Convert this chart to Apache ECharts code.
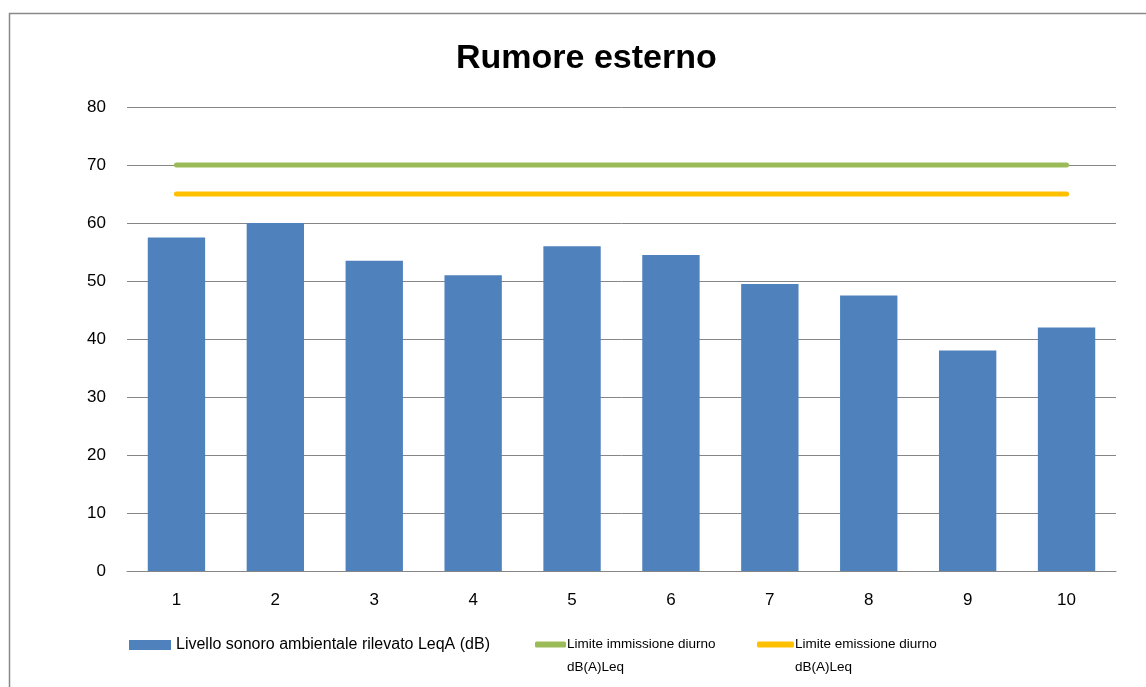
<!DOCTYPE html>
<html>
<head>
<meta charset="utf-8">
<script src="https://cdn.jsdelivr.net/npm/echarts@6/dist/echarts.min.js"></script>
<style>
  html, body { margin: 0; padding: 0; background: #fff; }
  #chart { width: 1146px; height: 687px; }
</style>
</head>
<body>
<div id="chart"></div>
<script>
  // dati
  const categories = ['1', '2', '3', '4', '5', '6', '7', '8', '9', '10']
  const livelloLeqA = [57.5, 60, 53.5, 51, 56, 54.5, 49.5, 47.5, 38, 42]
  const limiteImmissione = [70, 70, 70, 70, 70, 70, 70, 70, 70, 70]
  const limiteEmissione = [65, 65, 65, 65, 65, 65, 65, 65, 65, 65]

  const nameBar = 'Livello sonoro ambientale rilevato LeqA (dB)'
  const nameImm = 'Limite immissione diurno\ndB(A)Leq'
  const nameEmi = 'Limite emissione diurno\ndB(A)Leq'

  const FONT = '"Liberation Sans", Arial, sans-serif'
  const BLUE = '#4F81BD'
  const GREEN = '#9BBB59'
  const YELLOW = '#FFC000'

  const chart = echarts.init(document.getElementById('chart'))

  // riga vuota davanti: così la prima riga del testo resta allineata all'icona
  const twoLines = (name) => '\n' + name

  const option = {
    animation: false,
    backgroundColor: '#fff',
    graphic: [
      {
        type: 'rect',
        shape: { x: 9.5, y: 13.5, width: 1200, height: 700 },
        style: { fill: 'none', stroke: '#898989', lineWidth: 1.5 },
        silent: true
      }
    ],
    title: {
      text: 'Rumore esterno',
      left: 451,
      top: 37,
      textStyle: { fontFamily: FONT, fontSize: 34, fontWeight: 'bold', color: '#000' }
    },
    grid: { left: 127, right: 30, top: 107, bottom: 116 },
    legend: [
      {
        data: [nameBar],
        left: 129,
        top: 637,
        padding: 0,
        itemWidth: 42,
        itemHeight: 10,
        icon: 'rect',
        textStyle: { fontFamily: FONT, fontSize: 16, color: '#000' }
      },
      {
        data: [nameImm],
        left: 535,
        top: 610,
        padding: 0,
        itemWidth: 31,
        itemHeight: 6,
        icon: 'roundRect',
        formatter: twoLines,
        textStyle: { fontFamily: FONT, fontSize: 13.5, color: '#000', lineHeight: 23, padding: [0, 0, 0, -4] }
      },
      {
        data: [nameEmi],
        left: 757,
        top: 610,
        padding: 0,
        itemWidth: 37,
        itemHeight: 6,
        icon: 'roundRect',
        formatter: twoLines,
        textStyle: { fontFamily: FONT, fontSize: 13.5, color: '#000', lineHeight: 23, padding: [0, 0, 0, -4] }
      }
    ],
    xAxis: {
      type: 'category',
      data: categories,
      axisLine: { lineStyle: { color: '#868686', width: 1 } },
      axisTick: { show: false },
      axisLabel: { fontFamily: FONT, fontSize: 17, color: '#000', margin: 21 }
    },
    yAxis: {
      type: 'value',
      min: 0,
      max: 80,
      interval: 10,
      axisLine: { show: false },
      axisTick: { show: false },
      axisLabel: { fontFamily: FONT, fontSize: 17, color: '#000', margin: 21 },
      splitLine: { lineStyle: { color: '#868686', width: 1 } }
    },
    series: [
      {
        name: nameBar,
        type: 'bar',
        data: livelloLeqA,
        barWidth: '58%',
        itemStyle: { color: BLUE }
      },
      {
        name: nameImm,
        type: 'line',
        data: limiteImmissione,
        symbol: 'none',
        lineStyle: { color: GREEN, width: 5, cap: 'round' },
        itemStyle: { color: GREEN }
      },
      {
        name: nameEmi,
        type: 'line',
        data: limiteEmissione,
        symbol: 'none',
        lineStyle: { color: YELLOW, width: 5, cap: 'round' },
        itemStyle: { color: YELLOW }
      }
    ]
  }

  chart.setOption(option)
</script>
</body>
</html>
